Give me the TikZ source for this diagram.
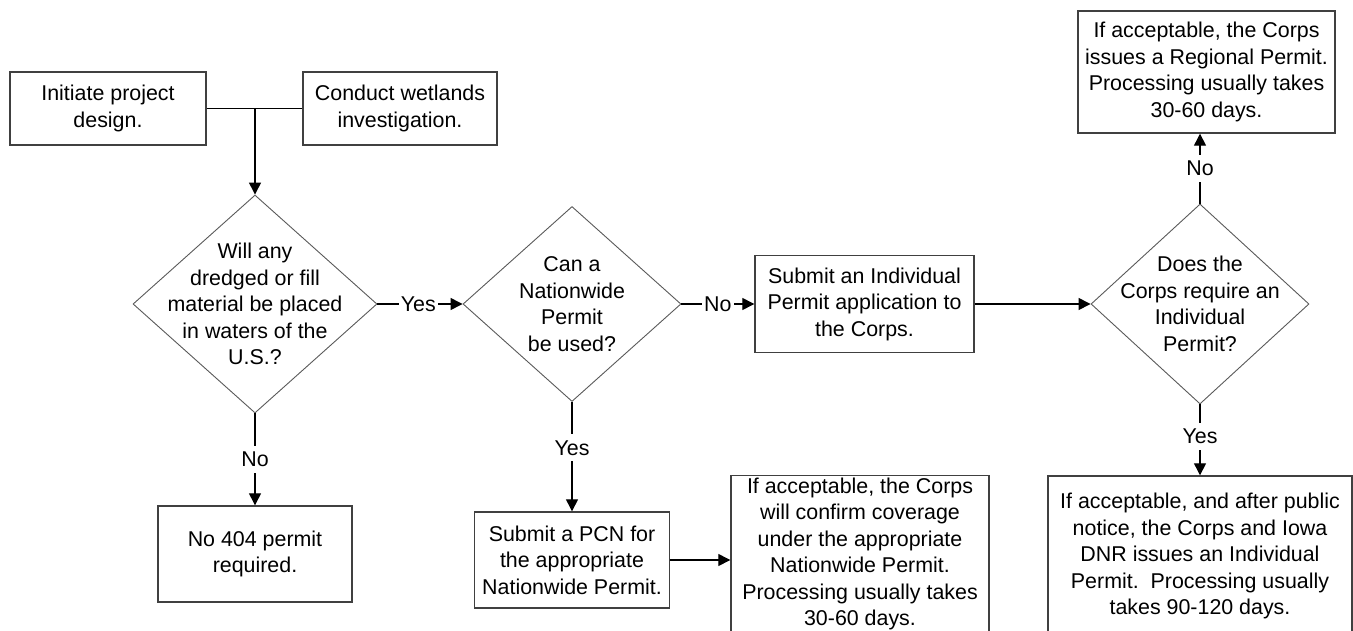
\documentclass[tikz,border=0pt]{standalone}
\usepackage{fontspec}
\setmainfont{Liberation Sans}
\usetikzlibrary{shapes.geometric,arrows.meta}

\begin{document}
\begin{tikzpicture}[x=0.5pt,y=-0.5pt,
  every node/.style={font=\fontsize{10.7}{13.25}\selectfont,align=center},
  sz/.style 2 args={minimum width=#1*0.5pt,minimum height=#2*0.5pt},
  box/.style={draw=black!75,line width=0.7pt,inner sep=0pt},
  decision/.style={shape=diamond,draw=black!65,line width=0.45pt,inner sep=0pt},
  tag/.style={fill=white,inner xsep=1pt,inner ysep=3pt},
  flow/.style={line width=0.65pt,-{Triangle[length=6pt,width=6pt]}}]
\useasboundingbox (0,0) rectangle (1353,631);
\clip (0,0) rectangle (1353,631);
\node[box,sz={196}{73}] (init) at (108,108.5) {Initiate project\\design.};
\node[box,sz={194}{73}] (wet) at (400,108.5) {Conduct wetlands\\investigation.};
\node[decision,sz={244}{218},label={center:{Will any\\dredged or fill\\material be placed\\in waters of the\\U.S.?}}] (q1) at (255,304) {};
\node[decision,sz={218}{195},label={center:{Can a\\Nationwide\\Permit\\be used?}}] (q2) at (572,304) {};
\node[box,sz={219}{97}] (ip) at (864.5,304) {Submit an Individual\\Permit application to\\the Corps.};
\node[decision,sz={218}{200},label={center:{Does the\\Corps require an\\Individual\\Permit?}}] (q3) at (1200,304) {};
\node[box,sz={257}{122}] (rp) at (1206.5,72) {If acceptable, the Corps\\issues a Regional Permit.\\Processing usually takes\\30-60 days.};
\node[box,sz={194}{96}] (none) at (255,554) {No 404 permit\\required.};
\node[box,sz={195}{96}] (pcn) at (572,560) {Submit a PCN for\\the appropriate\\Nationwide Permit.};
\node[box,sz={258}{0},anchor=north,inner ysep=1pt,text depth=14pt] (nwp) at (860,475) {If acceptable, the Corps\\will confirm coverage\\under the appropriate\\Nationwide Permit.\\Processing usually takes\\30-60 days.};
\node[box,sz={304}{160}] (ind) at (1200,556) {If acceptable, and after public\\notice, the Corps and Iowa\\DNR issues an Individual\\Permit.\ \ Processing usually\\takes 90-120 days.};
\coordinate (join) at (init.east -| q1.north);
\draw[line width=0.65pt] (init.east) -- (wet.west);
\draw[flow] (join) -- (q1.north);
\draw[flow] (q1.east) -- node[tag,pos=0.48] {Yes} (q2.west);
\draw[flow] (q2.east) -- node[tag] {No} (ip.west);
\draw[flow] (ip.east) -- (q3.west);
\draw[flow] (q3.north) -- node[tag] {No} (q3.north |- rp.south);
\draw[flow] (q1.south) -- node[tag] {No} (none.north);
\draw[flow] (q2.south) -- node[tag,pos=0.42] {Yes} (pcn.north);
\draw[flow] (pcn.east) -- (pcn.east -| nwp.west);
\draw[flow] (q3.south) -- node[tag,pos=0.45] {Yes} (ind.north);
\end{tikzpicture}
\end{document}
